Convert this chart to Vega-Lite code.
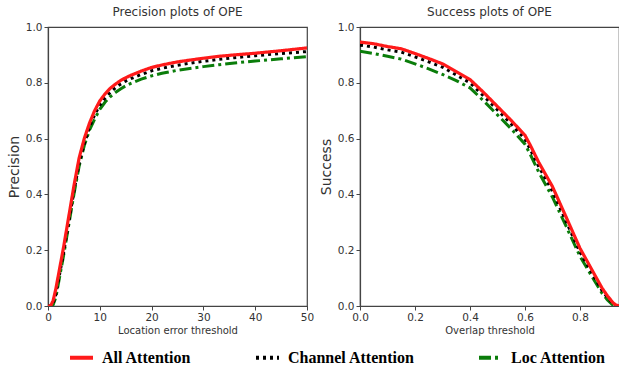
{
  "$schema": "https://vega.github.io/schema/vega-lite/v6.json",
  "padding": {"left": 6, "top": 5, "right": 0, "bottom": 0},
  "background": "white",
  "config": {
    "view": {"stroke": "#444", "strokeWidth": 1.2},
    "font": "DejaVu Sans",
    "axis": {
      "grid": false, "domainColor": "#444", "domainWidth": 1.2, "tickColor": "#444", "tickSize": 4,
      "labelColor": "#333", "labelFont": "DejaVu Sans", "labelFontSize": 10.5, "labelFlush": false,
      "titleColor": "#333", "titleFont": "DejaVu Sans", "titleFontWeight": "normal"
    },
    "title": {"font": "DejaVu Sans", "fontSize": 12, "fontWeight": "normal", "color": "#333", "offset": 3},
    "legend": {
      "orient": "none", "legendX": 20, "legendY": 317, "direction": "horizontal",
      "symbolType": "stroke", "symbolSize": 529, "symbolStrokeWidth": 4,
      "labelFont": "Liberation Serif", "labelFontSize": 16, "labelFontWeight": "bold", "labelColor": "#000",
      "columnPadding": 56, "labelOffset": 7
    }
  },
  "datasets": {
    "prec": [
      {"t":0,"s":"All Attention","v":0},{"t":0.5,"s":"All Attention","v":0},{"t":1,"s":"All Attention","v":0.02},{"t":1.5,"s":"All Attention","v":0.06},{"t":2,"s":"All Attention","v":0.11},{"t":3,"s":"All Attention","v":0.21},{"t":4,"s":"All Attention","v":0.32},{"t":5,"s":"All Attention","v":0.43},{"t":6,"s":"All Attention","v":0.53},{"t":7,"s":"All Attention","v":0.6},{"t":8,"s":"All Attention","v":0.655},{"t":9,"s":"All Attention","v":0.7},{"t":10,"s":"All Attention","v":0.735},{"t":11,"s":"All Attention","v":0.76},{"t":12,"s":"All Attention","v":0.78},{"t":13,"s":"All Attention","v":0.795},{"t":14,"s":"All Attention","v":0.808},{"t":15,"s":"All Attention","v":0.818},{"t":16,"s":"All Attention","v":0.827},{"t":18,"s":"All Attention","v":0.842},{"t":20,"s":"All Attention","v":0.855},{"t":22,"s":"All Attention","v":0.864},{"t":25,"s":"All Attention","v":0.875},{"t":28,"s":"All Attention","v":0.883},{"t":30,"s":"All Attention","v":0.888},{"t":33,"s":"All Attention","v":0.895},{"t":36,"s":"All Attention","v":0.9},{"t":40,"s":"All Attention","v":0.906},{"t":45,"s":"All Attention","v":0.915},{"t":50,"s":"All Attention","v":0.925},
      {"t":0,"s":"Channel Attention","v":0},{"t":0.5,"s":"Channel Attention","v":0},{"t":1,"s":"Channel Attention","v":0.01},{"t":1.5,"s":"Channel Attention","v":0.04},{"t":2,"s":"Channel Attention","v":0.09},{"t":3,"s":"Channel Attention","v":0.19},{"t":4,"s":"Channel Attention","v":0.3},{"t":5,"s":"Channel Attention","v":0.41},{"t":6,"s":"Channel Attention","v":0.51},{"t":7,"s":"Channel Attention","v":0.58},{"t":8,"s":"Channel Attention","v":0.64},{"t":9,"s":"Channel Attention","v":0.685},{"t":10,"s":"Channel Attention","v":0.72},{"t":11,"s":"Channel Attention","v":0.745},{"t":12,"s":"Channel Attention","v":0.765},{"t":13,"s":"Channel Attention","v":0.782},{"t":14,"s":"Channel Attention","v":0.795},{"t":15,"s":"Channel Attention","v":0.806},{"t":16,"s":"Channel Attention","v":0.815},{"t":18,"s":"Channel Attention","v":0.83},{"t":20,"s":"Channel Attention","v":0.843},{"t":22,"s":"Channel Attention","v":0.852},{"t":25,"s":"Channel Attention","v":0.863},{"t":28,"s":"Channel Attention","v":0.872},{"t":30,"s":"Channel Attention","v":0.877},{"t":33,"s":"Channel Attention","v":0.884},{"t":36,"s":"Channel Attention","v":0.89},{"t":40,"s":"Channel Attention","v":0.897},{"t":45,"s":"Channel Attention","v":0.905},{"t":50,"s":"Channel Attention","v":0.912},
      {"t":0,"s":"Loc Attention","v":0},{"t":0.5,"s":"Loc Attention","v":0},{"t":1,"s":"Loc Attention","v":0.005},{"t":1.5,"s":"Loc Attention","v":0.03},{"t":2,"s":"Loc Attention","v":0.08},{"t":3,"s":"Loc Attention","v":0.18},{"t":4,"s":"Loc Attention","v":0.29},{"t":5,"s":"Loc Attention","v":0.4},{"t":6,"s":"Loc Attention","v":0.5},{"t":7,"s":"Loc Attention","v":0.575},{"t":8,"s":"Loc Attention","v":0.63},{"t":9,"s":"Loc Attention","v":0.67},{"t":10,"s":"Loc Attention","v":0.705},{"t":11,"s":"Loc Attention","v":0.73},{"t":12,"s":"Loc Attention","v":0.75},{"t":13,"s":"Loc Attention","v":0.765},{"t":14,"s":"Loc Attention","v":0.778},{"t":15,"s":"Loc Attention","v":0.789},{"t":16,"s":"Loc Attention","v":0.798},{"t":18,"s":"Loc Attention","v":0.813},{"t":20,"s":"Loc Attention","v":0.825},{"t":22,"s":"Loc Attention","v":0.834},{"t":25,"s":"Loc Attention","v":0.845},{"t":28,"s":"Loc Attention","v":0.853},{"t":30,"s":"Loc Attention","v":0.858},{"t":33,"s":"Loc Attention","v":0.865},{"t":36,"s":"Loc Attention","v":0.871},{"t":40,"s":"Loc Attention","v":0.878},{"t":45,"s":"Loc Attention","v":0.886},{"t":50,"s":"Loc Attention","v":0.894}
    ],
    "succ": [
      {"t":0,"s":"All Attention","v":0.946},{"t":0.05,"s":"All Attention","v":0.94},{"t":0.1,"s":"All Attention","v":0.93},{"t":0.15,"s":"All Attention","v":0.922},{"t":0.2,"s":"All Attention","v":0.905},{"t":0.25,"s":"All Attention","v":0.887},{"t":0.3,"s":"All Attention","v":0.868},{"t":0.35,"s":"All Attention","v":0.84},{"t":0.4,"s":"All Attention","v":0.812},{"t":0.45,"s":"All Attention","v":0.765},{"t":0.5,"s":"All Attention","v":0.715},{"t":0.55,"s":"All Attention","v":0.665},{"t":0.6,"s":"All Attention","v":0.612},{"t":0.62,"s":"All Attention","v":0.575},{"t":0.65,"s":"All Attention","v":0.515},{"t":0.7,"s":"All Attention","v":0.428},{"t":0.75,"s":"All Attention","v":0.318},{"t":0.8,"s":"All Attention","v":0.207},{"t":0.85,"s":"All Attention","v":0.118},{"t":0.88,"s":"All Attention","v":0.065},{"t":0.9,"s":"All Attention","v":0.036},{"t":0.92,"s":"All Attention","v":0.012},{"t":0.93,"s":"All Attention","v":0.004},{"t":0.942,"s":"All Attention","v":0},
      {"t":0,"s":"Channel Attention","v":0.935},{"t":0.05,"s":"Channel Attention","v":0.928},{"t":0.1,"s":"Channel Attention","v":0.918},{"t":0.15,"s":"Channel Attention","v":0.91},{"t":0.2,"s":"Channel Attention","v":0.893},{"t":0.25,"s":"Channel Attention","v":0.875},{"t":0.3,"s":"Channel Attention","v":0.856},{"t":0.35,"s":"Channel Attention","v":0.828},{"t":0.4,"s":"Channel Attention","v":0.8},{"t":0.45,"s":"Channel Attention","v":0.752},{"t":0.5,"s":"Channel Attention","v":0.703},{"t":0.55,"s":"Channel Attention","v":0.652},{"t":0.6,"s":"Channel Attention","v":0.598},{"t":0.62,"s":"Channel Attention","v":0.56},{"t":0.65,"s":"Channel Attention","v":0.5},{"t":0.7,"s":"Channel Attention","v":0.412},{"t":0.75,"s":"Channel Attention","v":0.302},{"t":0.8,"s":"Channel Attention","v":0.193},{"t":0.85,"s":"Channel Attention","v":0.107},{"t":0.88,"s":"Channel Attention","v":0.056},{"t":0.9,"s":"Channel Attention","v":0.03},{"t":0.92,"s":"Channel Attention","v":0.008},{"t":0.93,"s":"Channel Attention","v":0.002},{"t":0.942,"s":"Channel Attention","v":0},
      {"t":0,"s":"Loc Attention","v":0.913},{"t":0.05,"s":"Loc Attention","v":0.905},{"t":0.1,"s":"Loc Attention","v":0.895},{"t":0.15,"s":"Loc Attention","v":0.885},{"t":0.2,"s":"Loc Attention","v":0.868},{"t":0.25,"s":"Loc Attention","v":0.85},{"t":0.3,"s":"Loc Attention","v":0.83},{"t":0.35,"s":"Loc Attention","v":0.808},{"t":0.4,"s":"Loc Attention","v":0.782},{"t":0.45,"s":"Loc Attention","v":0.735},{"t":0.5,"s":"Loc Attention","v":0.685},{"t":0.55,"s":"Loc Attention","v":0.635},{"t":0.6,"s":"Loc Attention","v":0.58},{"t":0.62,"s":"Loc Attention","v":0.542},{"t":0.65,"s":"Loc Attention","v":0.48},{"t":0.7,"s":"Loc Attention","v":0.39},{"t":0.75,"s":"Loc Attention","v":0.285},{"t":0.8,"s":"Loc Attention","v":0.178},{"t":0.85,"s":"Loc Attention","v":0.095},{"t":0.88,"s":"Loc Attention","v":0.046},{"t":0.9,"s":"Loc Attention","v":0.022},{"t":0.92,"s":"Loc Attention","v":0.003},{"t":0.93,"s":"Loc Attention","v":0},{"t":0.942,"s":"Loc Attention","v":0}
    ]
  },
  "spacing": 3,
  "resolve": {"scale": {"color": "shared", "strokeDash": "shared"}},
  "hconcat": [
    {
      "title": "Precision plots of OPE",
      "width": 259, "height": 279,
      "data": {"name": "prec"},
      "encoding": {
        "x": {"field": "t", "type": "quantitative", "scale": {"domain": [0, 50], "nice": false},
              "axis": {"values": [0,10,20,30,40,50], "title": "Location error threshold", "titleFontSize": 10, "titlePadding": 3}},
        "y": {"field": "v", "type": "quantitative", "scale": {"domain": [0, 1], "nice": false},
              "axis": {"values": [0,0.2,0.4,0.6,0.8,1], "format": ".1f", "title": "Precision", "titleFontSize": 14, "titlePadding": 4}},
        "color": {"field": "s", "type": "nominal",
                  "scale": {"domain": ["All Attention","Channel Attention","Loc Attention"], "range": ["#ff1a1a","#000000","#0a7d0a"]},
                  "legend": {"title": null}},
        "strokeDash": {"field": "s", "type": "nominal",
                  "scale": {"domain": ["All Attention","Channel Attention","Loc Attention"], "range": [[1,0],[3,4],[12,4,3,4]]},
                  "legend": {"title": null}}
      },
      "layer": [
        {"transform": [{"filter": "datum.s === 'Loc Attention'"}], "mark": {"type": "line", "strokeWidth": 3, "clip": true}},
        {"transform": [{"filter": "datum.s === 'Channel Attention'"}], "mark": {"type": "line", "strokeWidth": 3, "clip": true}},
        {"transform": [{"filter": "datum.s === 'All Attention'"}], "mark": {"type": "line", "strokeWidth": 3.2, "clip": true}}
      ]
    },
    {
      "title": "Success plots of OPE",
      "width": 259, "height": 279,
      "data": {"name": "succ"},
      "encoding": {
        "x": {"field": "t", "type": "quantitative", "scale": {"domain": [0, 0.942], "nice": false},
              "axis": {"values": [0,0.2,0.4,0.6,0.8], "format": ".1f", "title": "Overlap threshold", "titleFontSize": 10, "titlePadding": 3}},
        "y": {"field": "v", "type": "quantitative", "scale": {"domain": [0, 1], "nice": false},
              "axis": {"values": [0,0.2,0.4,0.6,0.8,1], "format": ".1f", "title": "Success", "titleFontSize": 14, "titlePadding": 4}},
        "color": {"field": "s", "type": "nominal",
                  "scale": {"domain": ["All Attention","Channel Attention","Loc Attention"], "range": ["#ff1a1a","#000000","#0a7d0a"]},
                  "legend": {"title": null}},
        "strokeDash": {"field": "s", "type": "nominal",
                  "scale": {"domain": ["All Attention","Channel Attention","Loc Attention"], "range": [[1,0],[3,4],[12,4,3,4]]},
                  "legend": {"title": null}}
      },
      "layer": [
        {"transform": [{"filter": "datum.s === 'Loc Attention'"}], "mark": {"type": "line", "strokeWidth": 3, "clip": true}},
        {"transform": [{"filter": "datum.s === 'Channel Attention'"}], "mark": {"type": "line", "strokeWidth": 3, "clip": true}},
        {"transform": [{"filter": "datum.s === 'All Attention'"}], "mark": {"type": "line", "strokeWidth": 3.2, "clip": true}}
      ]
    }
  ]
}
